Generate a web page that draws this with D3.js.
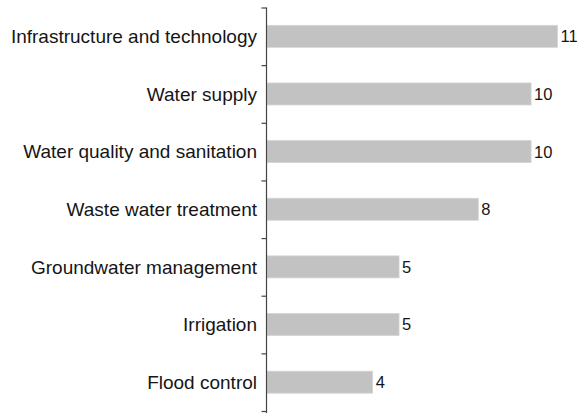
<!DOCTYPE html>
<html>
<head>
<meta charset="utf-8">
<script src="https://cdn.jsdelivr.net/npm/d3@7"></script>
<style>
  body { margin: 0; background: #fff; }
  text { font-family: Arial, "Liberation Sans", sans-serif; fill: #151515; }
</style>
</head>
<body>
<svg id="chart" width="585" height="413"></svg>
<script>
// categories top to bottom, with counts
const categories = [
    "Infrastructure and technology",
    "Water supply",
    "Water quality and sanitation",
    "Waste water treatment",
    "Groundwater management",
    "Irrigation",
    "Flood control"
];
const counts = [11, 10, 10, 8, 5, 5, 4];

const svg = d3.select("#chart");
const axisX = 266.5;
const yTop = 7.5, yBottom = 411;

const y = d3.scaleBand()
    .domain(categories)
    .range([yTop, yBottom]);

// boundaries between categories for the tick marks
const yEdge = d3.scaleLinear()
    .domain([0, categories.length])
    .range([yTop, yBottom]);

const x = d3.scaleLinear()
    .domain([0, 11])
    .range([axisX + 0.5, axisX + 0.5 + 290.5]);

const barH = 22;

svg.append("g")
    .selectAll("rect")
    .data(categories)
    .join("rect")
    .attr("x", x(0))
    .attr("y", d => y(d) + (y.bandwidth() - barH) / 2)
    .attr("width", (d, i) => x(counts[i]) - x(0))
    .attr("height", barH)
    .attr("fill", "#c2c2c2")
    .attr("stroke", "#d4d4d4")
    .attr("stroke-width", 0.8);

// value labels
svg.append("g")
    .selectAll("text")
    .data(categories)
    .join("text")
    .attr("x", (d, i) => x(counts[i]) + 3)
    .attr("y", d => y(d) + y.bandwidth() / 2)
    .attr("dy", "0.36em")
    .style("font-size", "16.5px")
    .text((d, i) => counts[i]);

// category labels
svg.append("g")
    .selectAll("text")
    .data(categories)
    .join("text")
    .attr("x", 257)
    .attr("y", d => y(d) + y.bandwidth() / 2)
    .attr("dy", "0.36em")
    .attr("text-anchor", "end")
    .style("font-size", "19px")
    .text(d => d);

const axis = svg.append("g")
    .attr("transform", "translate(" + axisX + ",0)")
    .call(d3.axisLeft(yEdge)
        .tickValues(d3.range(categories.length + 1))
        .tickFormat("")
        .tickSize(5)
        .tickSizeOuter(0));
axis.select(".domain").attr("stroke", "#444").attr("stroke-width", 1.2)
    .attr("d", "M0," + yTop + "V413");
axis.selectAll(".tick line").attr("stroke", "#444").attr("stroke-width", 1.2);
</script>
</body>
</html>
